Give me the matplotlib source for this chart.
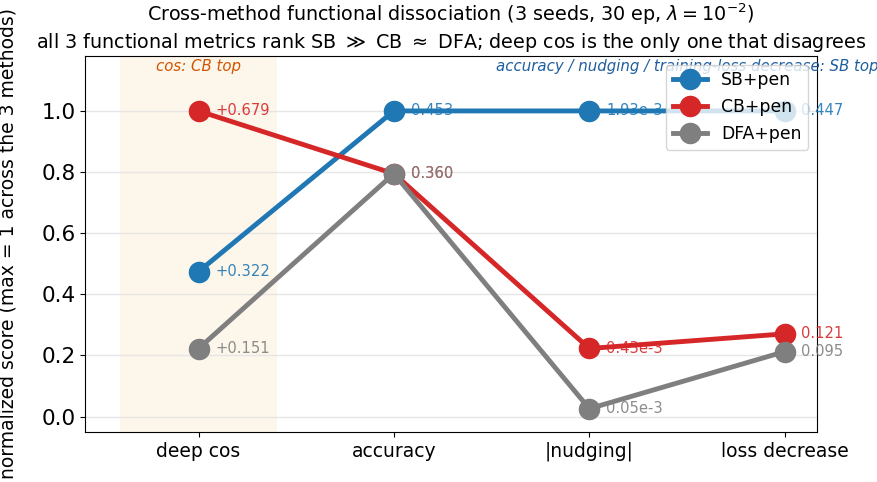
import matplotlib.pyplot as plt

metrics = ["deep cos", "accuracy", "|nudging|", "loss decrease"]

# raw values per method (deep cos, accuracy, |nudging|, loss decrease)
raw_sb = [0.322, 0.453, 1.93e-3, 0.447]
raw_cb = [0.679, 0.360, 0.43e-3, 0.121]
raw_dfa = [0.151, 0.360, 0.05e-3, 0.095]

labels_sb = ["+0.322", "0.453", "1.93e-3", "0.447"]
labels_cb = ["+0.679", "0.360", "0.43e-3", "0.121"]
labels_dfa = ["+0.151", "0.360", "0.05e-3", "0.095"]

methods = ["SB+pen", "CB+pen", "DFA+pen"]
colors = ["tab:blue", "tab:red", "tab:gray"]

raws = [raw_sb, raw_cb, raw_dfa]
labs = [labels_sb, labels_cb, labels_dfa]
maxes = [max(r[i] for r in raws) for i in range(len(metrics))]

fig, ax = plt.subplots(figsize=(8.78, 4.82), dpi=100)
x = list(range(len(metrics)))

ax.axvspan(-0.4, 0.4, color="#fdf0dc", alpha=0.6, zorder=0, lw=0)

for name, col, r, lb in zip(methods, colors, raws, labs):
    norm = [v / m for v, m in zip(r, maxes)]
    ax.plot(x, norm, "-o", color=col, lw=3.5, ms=14.5, label=name, zorder=3)
    for xi, yi, t in zip(x, norm, lb):
        ax.annotate(t, (xi, yi), xytext=(12, 0), textcoords="offset points",
                    va="center", ha="left", fontsize=10.6, color=col, alpha=0.9,
                    zorder=4)

ax.text(0, 1.145, "cos: CB top", ha="center", va="center", fontsize=10.8,
        style="italic", color="#d35400")
ax.text(2.5, 1.145, "accuracy / nudging / training-loss decrease: SB top",
        ha="center", va="center", fontsize=10.8, style="italic", color="#1f5f9f")

ax.set_xticks(x)
ax.set_xticklabels(metrics, fontsize=13.5)
ax.tick_params(axis="y", labelsize=15.5)
ax.set_xlim(-0.58, 3.165)
ax.set_ylim(-0.05, 1.18)
ax.yaxis.grid(True, color="#e6e6e6", lw=1)
ax.set_axisbelow(True)
ax.set_ylabel("normalized score (max = 1 across the 3 methods)", fontsize=13.5,
              labelpad=17)
ax.set_title("Cross-method functional dissociation (3 seeds, 30 ep, $\\lambda = 10^{-2}$)\n"
             "all 3 functional metrics rank SB $\\gg$ CB $\\approx$ DFA; deep cos is the only one that disagrees",
             fontsize=13.8)
ax.legend(loc="upper right", fontsize=12.4)

fig.subplots_adjust(left=0.097, right=0.9305, top=0.884, bottom=0.104)
fig.savefig("out.png", dpi=100)
